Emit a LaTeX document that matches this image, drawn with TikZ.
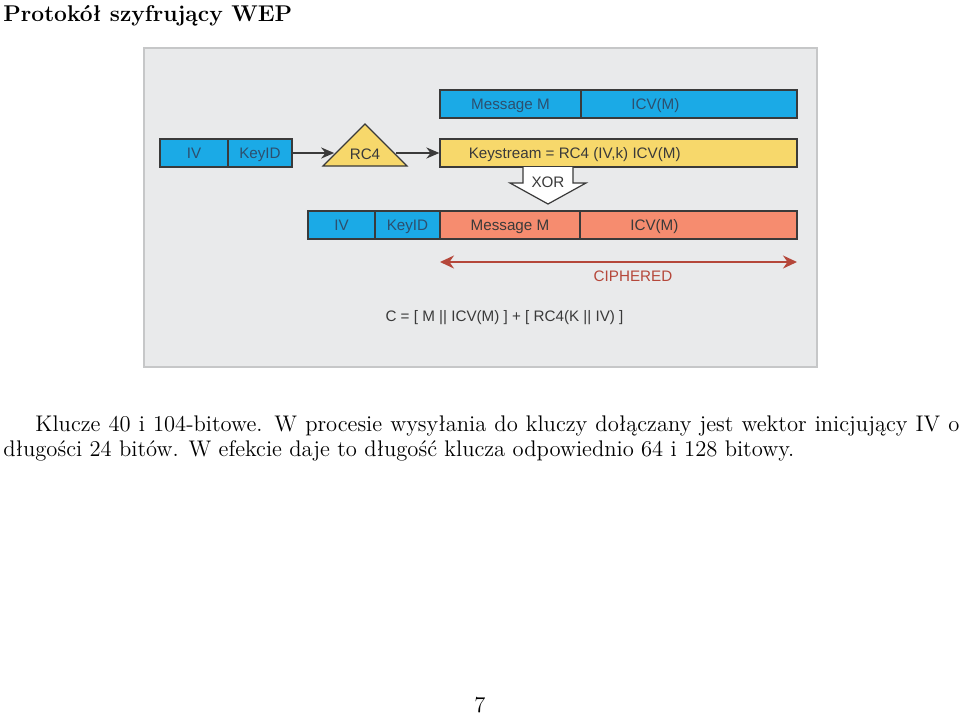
\documentclass[tikz,border=0pt]{standalone}
\usepackage{fontspec}
\newfontfamily\diagfont{Liberation Sans}
\usetikzlibrary{arrows.meta,shapes.geometric,positioning}

\definecolor{panelgray}{HTML}{E9EAEB}
\definecolor{panelline}{HTML}{C6C7C8}
\definecolor{wepblue}{HTML}{1BAAE6}
\definecolor{wepyellow}{HTML}{F7D86B}
\definecolor{wepsalmon}{HTML}{F68C6F}
\definecolor{blueink}{HTML}{2D4F6E}
\definecolor{darkink}{HTML}{3A3A3A}
\definecolor{cipherred}{HTML}{B5473A}

\begin{document}
\begin{tikzpicture}[x=0.5pt, y=-0.5pt,
    diag/.style={font=\diagfont\fontsize{7.6}{9}\selectfont, text height=5.5pt, text depth=0pt},
    field/.style={diag, draw=darkink, line width=0.6pt, minimum height=14pt, inner sep=0pt},
    bluefield/.style={field, fill=wepblue, text=blueink},
    salmonfield/.style={field, fill=wepsalmon, text=darkink},
    yellowfield/.style={field, fill=wepyellow, text=darkink},
    flow/.style={draw=darkink, line width=1pt, -{Stealth[length=6.5pt,width=5.5pt]}},
    cipher/.style={draw=cipherred, line width=1pt, {Stealth[length=7pt,width=6.5pt]}-{Stealth[length=7pt,width=6.5pt]}}]

\useasboundingbox (0,0) rectangle (960,714);

% title ---
\node[anchor=base west, inner sep=0pt, font=\fontsize{11.4}{13}\selectfont\bfseries] (title) at (3,21) {Protokół szyfrujący WEP};

% panel ---
\filldraw[fill=panelgray, draw=panelline, line width=0.8pt] (144,48) rectangle (817,367);

% top row: plain frame
\node[bluefield, minimum width=70.5pt] (msgtop) at (510.5,104) {Message M};
\node[bluefield, minimum width=108pt] (icvtop) at (689,104) {};
\node[diag, text=blueink] (icvtoptext) at ([xshift=37.5pt]icvtop.west) {ICV(M)};

% key + RC4 + keystream
\node[bluefield, minimum width=34pt] (iv1) at (194,153) {IV};
\node[bluefield, minimum width=32pt] (keyid1) at (260,153) {KeyID};
\node[diag, isosceles triangle, isosceles triangle apex angle=90, isosceles triangle stretches,
      shape border rotate=90, minimum width=42pt, minimum height=21pt, inner sep=0pt,
      fill=wepyellow, draw=darkink, line width=0.6pt, text=darkink] (rc4) at (365,154) {RC4};
\node[yellowfield, minimum width=178.5pt] (keystream) at (618.5,153) {};
\node[diag, text=darkink, anchor=west, inner sep=0pt] (kstext) at ([xshift=14.5pt]keystream.west) {Keystream = RC4 (IV,k) ICV(M)};

\draw[flow] (keyid1) -- (keyid1 -| rc4.west);
\draw[flow] (keyid1 -| rc4.east) -- (keystream);

% XOR arrow
\filldraw[fill=white, draw=darkink, line width=0.6pt] (523,167) -- (523,183) -- (510,183) -- (548,204) -- (586,183) -- (573,183) -- (573,167);
\node[diag, text=darkink] (xor) at (548,182) {XOR};

% ciphered frame
\node[bluefield, minimum width=33.5pt] (iv2) at (341.5,225) {IV};
\node[bluefield, minimum width=32.5pt] (keyid2) at (407.5,225) {KeyID};
\node[salmonfield, minimum width=70pt] (msg2) at (510,225) {Message M};
\node[salmonfield, minimum width=108.5pt] (icv2) at (688.5,225) {};
\node[diag, text=darkink] (icv2text) at ([xshift=37.5pt]icv2.west) {ICV(M)};

\coordinate (cipherl) at (440,262);
\coordinate (cipherr) at (797,262);
\draw[cipher] (cipherl) -- (cipherr);
\node[diag, text=cipherred] (ciphered) at (633,276) {CIPHERED};

\node[diag, text=darkink] (formula) at (504.5,316) {C = [ M || ICV(M) ] + [ RC4(K || IV) ]};

% text ---
\node[anchor=north west, inner sep=0pt, text width=478pt, align=justify, font=\fontsize{11.3}{12.5}\selectfont] (para) at (3,415)
  {\hspace*{16pt}Klucze 40 i 104-bitowe. W procesie wysyłania do kluczy dołączany jest wektor inicjujący IV o\linebreak
   długości 24 bitów. W efekcie daje to długość klucza odpowiednio 64 i 128 bitowy.};

\node[anchor=base, inner sep=0pt, font=\fontsize{11.3}{12}\selectfont] (pagenum) at (480,712) {7};

\end{tikzpicture}
\end{document}
